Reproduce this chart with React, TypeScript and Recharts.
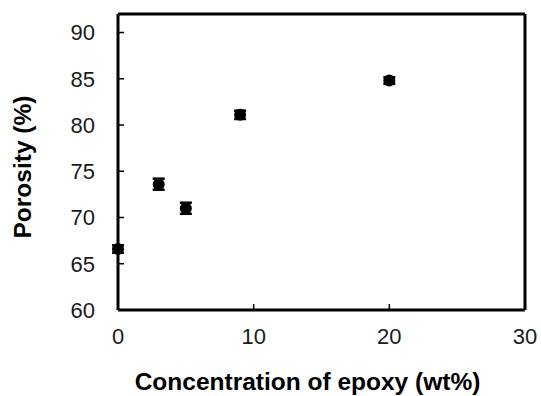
import { ScatterChart, Scatter, XAxis, YAxis, ErrorBar, ReferenceLine, Label } from 'recharts';

// epoxy concentration (wt%) vs porosity (%)
const concentration = [0, 3, 5, 9, 20];
const porosity = [66.6, 73.6, 71.0, 81.1, 84.8];
const porosityErr = [0.4, 0.6, 0.6, 0.45, 0.35];

const xTicks = [0, 10, 20, 30];
const yTicks = [60, 65, 70, 75, 80, 85, 90];

const data = concentration.map((c, i) => ({ x: c, y: porosity[i], err: porosityErr[i] }));

const FONT = '"Liberation Sans", Arial, sans-serif';

const Dot = (props: any) => <circle cx={props.cx} cy={props.cy} r={6} fill="#000" />;

export default function App() {
  return (
    <div style={{ position: 'absolute', left: 0, top: 0, background: '#fff' }}>
      <ScatterChart width={541} height={396} margin={{ top: 14, right: 16, bottom: 0, left: 0 }}>
        <XAxis
          type="number"
          dataKey="x"
          domain={[0, 30]}
          ticks={xTicks}
          tickSize={-6}
          tickMargin={24}
          axisLine={{ stroke: '#000', strokeWidth: 3 }}
          tickLine={{ stroke: '#000', strokeWidth: 1.5 }}
          tick={{ fill: '#1a1a1a', fontSize: 22, fontFamily: FONT }}
          height={86}
        >
          <Label
            value="Concentration of epoxy (wt%)"
            position="insideBottom"
            offset={6}
            dx={-14}
            style={{ fill: '#000', fontSize: 24.5, fontWeight: 'bold', fontFamily: FONT }}
          />
        </XAxis>
        <YAxis
          type="number"
          dataKey="y"
          domain={[60, 92]}
          ticks={yTicks}
          tickSize={-6}
          tickMargin={29}
          width={118}
          allowDataOverflow
          axisLine={{ stroke: '#000', strokeWidth: 3 }}
          tickLine={{ stroke: '#000', strokeWidth: 1.5 }}
          tick={{ fill: '#1a1a1a', fontSize: 22, fontFamily: FONT }}
        >
          <Label
            value="Porosity (%)"
            angle={-90}
            position="insideLeft"
            offset={22}
            dy={5}
            style={{ fill: '#000', fontSize: 24.5, fontWeight: 'bold', fontFamily: FONT, textAnchor: 'middle' }}
          />
        </YAxis>
        <ReferenceLine y={92} stroke="#000" strokeWidth={3} />
        <ReferenceLine x={30} stroke="#000" strokeWidth={3} />
        <Scatter data={data} shape={<Dot />} isAnimationActive={false}>
          <ErrorBar dataKey="err" direction="y" width={6} stroke="#000" strokeWidth={2.5} />
        </Scatter>
      </ScatterChart>
    </div>
  );
}
